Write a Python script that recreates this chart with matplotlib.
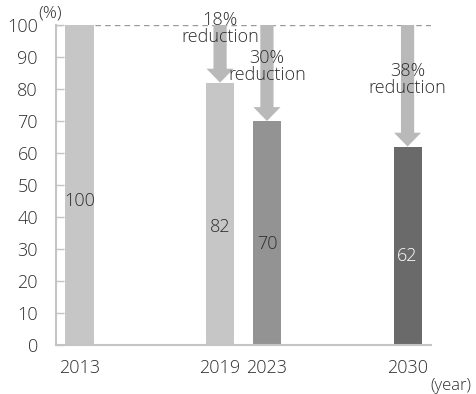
import matplotlib
matplotlib.use('Agg')
import matplotlib.pyplot as plt

# data
years = ['2013', '2019', '2023', '2030']
values = [100, 82, 70, 62]
bar_colors = ['#c6c6c6', '#c6c6c6', '#939393', '#6a6a6a']
label_colors = ['#2e2e2e', '#2e2e2e', '#2e2e2e', '#ffffff']
y_ticks = [0, 10, 20, 30, 40, 50, 60, 70, 80, 90, 100]

# layout (slot positions on the x axis)
x_pos = [0, 3, 4, 7]
note_y = [None, 99, 87, 83]

plt.rcParams['font.family'] = ['Open Sans', 'DejaVu Sans']
plt.rcParams['font.weight'] = 'light'
text_col = '#2e2e2e'
spine_col = '#c4c4c4'
arrow_col = '#b9b9b9'

fig = plt.figure(figsize=(4.76, 3.94), dpi=100)
ax = fig.add_axes([56 / 476, 1 - 345 / 394, 375 / 476, 320 / 394])

ax.bar(x_pos, values, width=0.6, color=bar_colors, zorder=2)
ax.axhline(100, color='#9a9a9a', lw=1, ls=(0, (4, 3)), zorder=1)

for x, v, c in zip(x_pos, values, label_colors):
    ax.text(x, v * 0.45, str(v), ha='center', va='center', fontsize=13,
            color=c, zorder=4)

# reduction arrows
base = values[0]
for x, v, ny in zip(x_pos[1:], values[1:], note_y[1:]):
    ax.annotate('', xy=(x, v), xytext=(x, base),
                arrowprops=dict(arrowstyle='simple,head_length=10,'
                                           'head_width=19.5,tail_width=9.5',
                                mutation_scale=1, color=arrow_col, lw=0,
                                shrinkA=0, shrinkB=0), zorder=3)
    ax.text(x, ny, '%d%%\nreduction' % (base - v), ha='center', va='center',
            fontsize=13, color=text_col, linespacing=0.95, zorder=5,
            clip_on=False)

ax.set_xlim(-0.5, 7.5)
ax.set_ylim(0, 100)
ax.set_xticks(x_pos)
ax.set_xticklabels(years)
ax.set_yticks(y_ticks)
ax.tick_params(axis='x', length=0, pad=10, labelsize=13, labelcolor=text_col)
ax.tick_params(axis='y', direction='in', length=6, width=1, color=spine_col,
               pad=13, labelsize=13, labelcolor=text_col)
for s in ['top', 'right']:
    ax.spines[s].set_visible(False)
for s in ['left', 'bottom']:
    ax.spines[s].set_color(spine_col)
    ax.spines[s].set_linewidth(1.5)

fig.text(50 / 476, 1 - 14 / 394, '(%)', ha='center', va='center',
         fontsize=12.5, color=text_col)
fig.text(451 / 476, 1 - 386 / 394, '(year)', ha='center', va='center',
         fontsize=12, color=text_col)

fig.savefig('out.png', dpi=100)
